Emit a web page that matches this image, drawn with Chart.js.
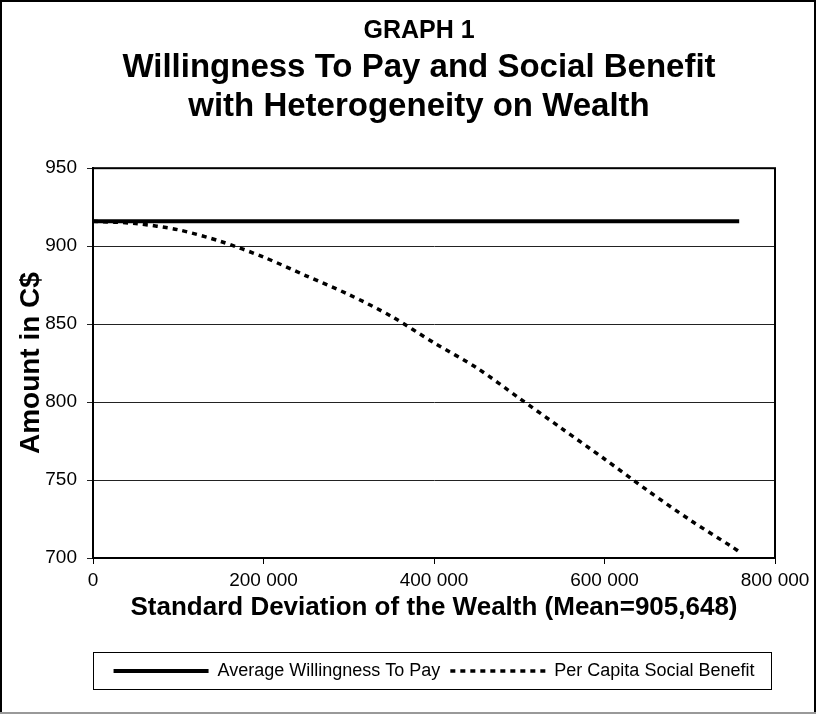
<!DOCTYPE html>
<html>
<head>
<meta charset="utf-8">
<script src="https://cdn.jsdelivr.net/npm/chart.js@4.4.1/dist/chart.umd.min.js"></script>
<style>
  html, body { margin: 0; padding: 0; background: #fff; }
  #wrap { width: 816px; height: 716px; position: relative; }
</style>
</head>
<body>
<div id="wrap"><canvas id="grafico"></canvas></div>
<script>
// standard deviation of wealth (x) and the two series
const desvios = [0, 50000, 100000, 150000, 200000, 250000, 300000, 350000, 400000,
                 450000, 500000, 550000, 600000, 650000, 700000, 750000, 758000];
const disposicaoPagar = [916, 916, 916, 916, 916, 916, 916, 916, 916,
                         916, 916, 916, 916, 916, 916, 916, 916];
const beneficioSocial = [916, 914.5, 910.5, 903, 893, 881, 869, 855, 838,
                         822, 802.5, 783, 763.5, 743.5, 724.5, 707, 704];
const ticksY = [700, 750, 800, 850, 900, 950];
const ticksX = [0, 200000, 400000, 600000, 800000];

const FONTE = '"Liberation Sans", Arial, sans-serif';

function pontos(xs, ys) {
    return xs.map((x, i) => ({ x: x, y: ys[i] }));
}

// moldura do gráfico, da área de plotagem e caixa da legenda
const molduras = {
    id: 'molduras',
    afterLayout(chart) {
        const a = chart.chartArea;
        // legenda centrada na área de plotagem, títulos um pouco à direita
        chart.legend.left = a.left;
        chart.legend.right = a.right;
        chart.boxes.forEach(b => {
            if (b.position === 'top' && b.constructor.name !== 'Legend') {
                b.left = a.left - 30;
                b.right = a.right;
            }
        });
    },
    beforeDraw(chart) {
        const c = chart.ctx;
        c.save();
        c.fillStyle = '#fff';
        c.fillRect(0, 0, chart.width, chart.height);
        c.strokeStyle = '#000';
        c.lineWidth = 2;
        c.beginPath();
        c.moveTo(1, 713); c.lineTo(1, 1); c.lineTo(chart.width - 1, 1); c.lineTo(chart.width - 1, 713);
        c.stroke();
        c.strokeStyle = '#999';
        c.beginPath();
        c.moveTo(0, 713); c.lineTo(chart.width, 713);
        c.stroke();
        c.restore();
    },
    afterDraw(chart) {
        const c = chart.ctx;
        const a = chart.chartArea;
        const lg = chart.legend;
        c.save();
        c.strokeStyle = '#000';
        c.lineWidth = 2;
        c.strokeRect(a.left, a.top, a.right - a.left, a.bottom - a.top);
        c.lineWidth = 1;
        c.strokeRect(a.left + 0.5, lg.top + 0.5, a.right - a.left - 4, lg.bottom - lg.top - 1);
        c.restore();
    }
};

const ctx = document.getElementById('grafico').getContext('2d');

new Chart(ctx, {
    type: 'line',
    data: {
        datasets: [{
            label: 'Average Willingness To Pay',
            data: pontos(desvios, disposicaoPagar),
            borderColor: '#000',
            backgroundColor: '#000',
            borderWidth: 4,
            pointRadius: 0,
            pointStyle: 'line',
            tension: 0
        }, {
            label: 'Per Capita Social Benefit',
            data: pontos(desvios, beneficioSocial),
            borderColor: '#000',
            backgroundColor: '#000',
            borderWidth: 3.5,
            borderDash: [5, 5],
            pointRadius: 0,
            pointStyle: 'line',
            tension: 0.3
        }]
    },
    options: {
        responsive: true,
        maintainAspectRatio: false,
        animation: false,
        layout: { padding: { left: 14, right: 41, top: 8, bottom: 26 } },
        scales: {
            x: {
                type: 'linear',
                min: 0,
                max: 800000,
                afterBuildTicks: (s) => { s.ticks = ticksX.map(v => ({ value: v })); },
                afterFit: (s) => { s.height = 94; },
                ticks: {
                    color: '#000',
                    padding: 5,
                    maxRotation: 0,
                    font: { family: FONTE, size: 19 },
                    callback: (v) => v === 0 ? '0' : (v / 1000) + ' 000'
                },
                grid: { drawOnChartArea: false, color: '#000', tickLength: 6 },
                border: { color: '#000', width: 2 },
                title: {
                    display: true,
                    text: 'Standard Deviation of the Wealth (Mean=905,648)',
                    color: '#000',
                    padding: { top: 0, bottom: 29 },
                    font: { family: FONTE, size: 26, weight: 'bold' }
                }
            },
            y: {
                min: 700,
                max: 950,
                afterBuildTicks: (s) => { s.ticks = ticksY.map(v => ({ value: v })); },
                afterFit: (s) => { s.width = 79; },
                ticks: {
                    color: '#000',
                    padding: 10,
                    font: { family: FONTE, size: 19 }
                },
                grid: { color: '#222', lineWidth: 1, tickLength: 6 },
                border: { color: '#000', width: 2 },
                title: {
                    display: true,
                    text: 'Amount in C$',
                    color: '#000',
                    padding: { top: 0, bottom: 0 },
                    font: { family: FONTE, size: 28, weight: 'bold' }
                }
            }
        },
        plugins: {
            title: {
                display: true,
                text: 'GRAPH 1',
                color: '#000',
                padding: { top: 8, bottom: 2 },
                font: { family: FONTE, size: 25, weight: 'bold', lineHeight: 1.2 }
            },
            subtitle: {
                display: true,
                text: ['Willingness To Pay and Social Benefit', 'with Heterogeneity on Wealth'],
                color: '#000',
                padding: { top: 0, bottom: 41 },
                font: { family: FONTE, size: 33, weight: 'bold', lineHeight: 1.2 }
            },
            legend: {
                position: 'bottom',
                labels: {
                    color: '#000',
                    usePointStyle: true,
                    pointStyleWidth: 95,
                    padding: 10,
                    font: { family: FONTE, size: 18 },
                    generateLabels: (chart) => {
                        const itens = Chart.defaults.plugins.legend.labels.generateLabels(chart);
                        itens.forEach((it, i) => {
                            const ds = chart.data.datasets[i];
                            it.lineWidth = ds.borderWidth;
                            it.lineDash = ds.borderDash || [];
                            it.strokeStyle = ds.borderColor;
                        });
                        return itens;
                    }
                }
            },
            tooltip: { enabled: false }
        }
    },
    plugins: [molduras]
});
</script>
</body>
</html>
